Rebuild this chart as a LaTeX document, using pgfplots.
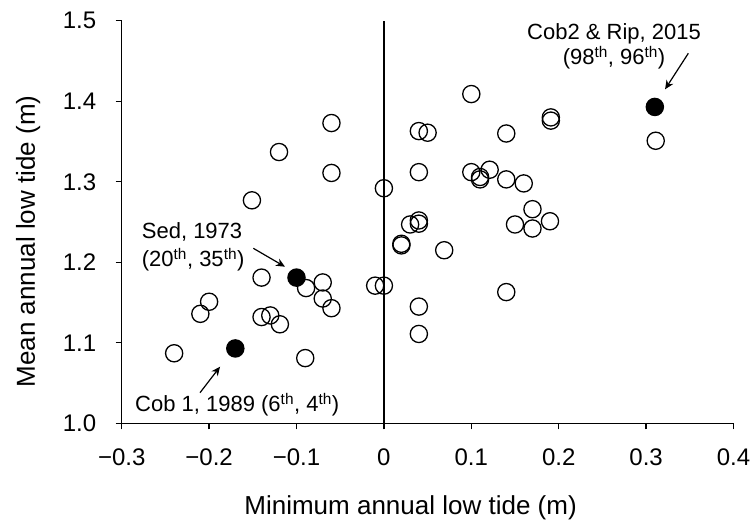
\documentclass[border=0pt]{standalone}
\usepackage{fontspec}
\setmainfont{Liberation Sans}
\usepackage{pgfplots}
\pgfplotsset{compat=1.18}
\usetikzlibrary{arrows.meta}

\begin{document}
\begin{tikzpicture}
\begin{axis}[
  scale only axis, width=611.8pt, height=402.5pt,
  xmin=-0.3, xmax=0.4, ymin=1.0, ymax=1.5,
  xtick={-0.3,-0.2,-0.1,0,0.1,0.2,0.3,0.4},
  xticklabels={−0.3,−0.2,−0.1,0,0.1,0.2,0.3,0.4},
  ytick={1.0,1.1,1.2,1.3,1.4,1.5},
  yticklabels={1.0,1.1,1.2,1.3,1.4,1.5},
  axis x line*=bottom, axis y line*=left,
  axis line style={-, line width=1.3pt},
  tick align=outside, major tick length=6pt,
  tick style={line width=1.3pt, black},
  tick label style={font=\fontsize{24}{28}\selectfont},
  xticklabel style={yshift=-16pt},
  yticklabel style={xshift=-16pt},
  xlabel={Minimum annual low tide (m)},
  ylabel={Mean annual low tide (m)},
  every axis x label/.style={at={(axis description cs:0.4722,-0.2278)}, anchor=base, font=\fontsize{26}{30}\selectfont},
  every axis y label/.style={at={(axis description cs:-0.142,0.4517)}, rotate=90, anchor=base, font=\fontsize{26}{30}\selectfont},
  clip=false,
]
\coordinate (bl) at (rel axis cs:0,0);
\coordinate (tr) at (rel axis cs:1,1);
\draw[line width=1.2pt] (axis cs:0,1.0) -- (axis cs:0,1.5);

% open circles: ordinary years
\addplot[only marks, mark=o, mark size=8.6pt, mark options={line width=1.3pt, black}] table {
x y
-0.060 1.373
-0.120 1.337
-0.060 1.311
0.000 1.292
-0.151 1.277
0.100 1.409
0.191 1.380
0.191 1.376
0.311 1.351
0.040 1.363
0.050 1.361
0.140 1.360
0.040 1.312
0.100 1.312
0.110 1.306
0.121 1.315
0.110 1.303
0.140 1.303
0.160 1.298
0.170 1.266
0.150 1.247
0.190 1.251
0.170 1.242
0.030 1.247
0.040 1.252
0.040 1.248
0.020 1.223
0.020 1.221
0.069 1.215
0.000 1.171
0.140 1.163
0.040 1.145
0.040 1.111
-0.140 1.181
-0.089 1.168
-0.070 1.175
-0.070 1.155
-0.060 1.143
-0.200 1.151
-0.210 1.136
-0.140 1.132
-0.130 1.134
-0.119 1.123
-0.240 1.087
-0.090 1.081
-0.010 1.171
};

% filled: highlighted years
\addplot[only marks, mark=*, mark size=8.6pt, mark options={line width=1.3pt, draw=black, fill=black}] table {
x y
-0.170 1.093
-0.100 1.181
0.310 1.393
};

\node[anchor=base, inner sep=0, font=\fontsize{22}{26}\selectfont] at (axis cs:0.2633,1.477) {Cob2 \& Rip, 2015};
\node[anchor=base, inner sep=0, font=\fontsize{22}{26}\selectfont] at (axis cs:0.2633,1.4455) {(98\textsuperscript{th}, 96\textsuperscript{th})};
\node[anchor=base west, inner sep=0, font=\fontsize{22}{26}\selectfont] at (axis cs:-0.2771,1.2298) {Sed, 1973};
\node[anchor=base west, inner sep=0, font=\fontsize{22}{26}\selectfont] at (axis cs:-0.2771,1.1945) {(20\textsuperscript{th}, 35\textsuperscript{th})};
\node[anchor=base west, inner sep=0, font=\fontsize{22}{26}\selectfont] at (axis cs:-0.2848,1.0144) {Cob 1, 1989 (6\textsuperscript{th}, 4\textsuperscript{th})};

\draw[line width=1.2pt, -{Stealth[length=9pt, width=8pt]}] (axis cs:0.3483,1.4596) -- (axis cs:0.3217,1.4149);
\draw[line width=1.2pt, -{Stealth[length=9pt, width=8pt]}] (axis cs:-0.1494,1.2174) -- (axis cs:-0.1132,1.1945);
\draw[line width=1.2pt, -{Stealth[length=9pt, width=8pt]}] (axis cs:-0.2104,1.038) -- (axis cs:-0.1875,1.0703);
\end{axis}
\pgfresetboundingbox
\path ([shift={(-121.7pt,-103.7pt)}]bl) rectangle ([shift={(21.5pt,20.8pt)}]tr);
\end{tikzpicture}
\end{document}
